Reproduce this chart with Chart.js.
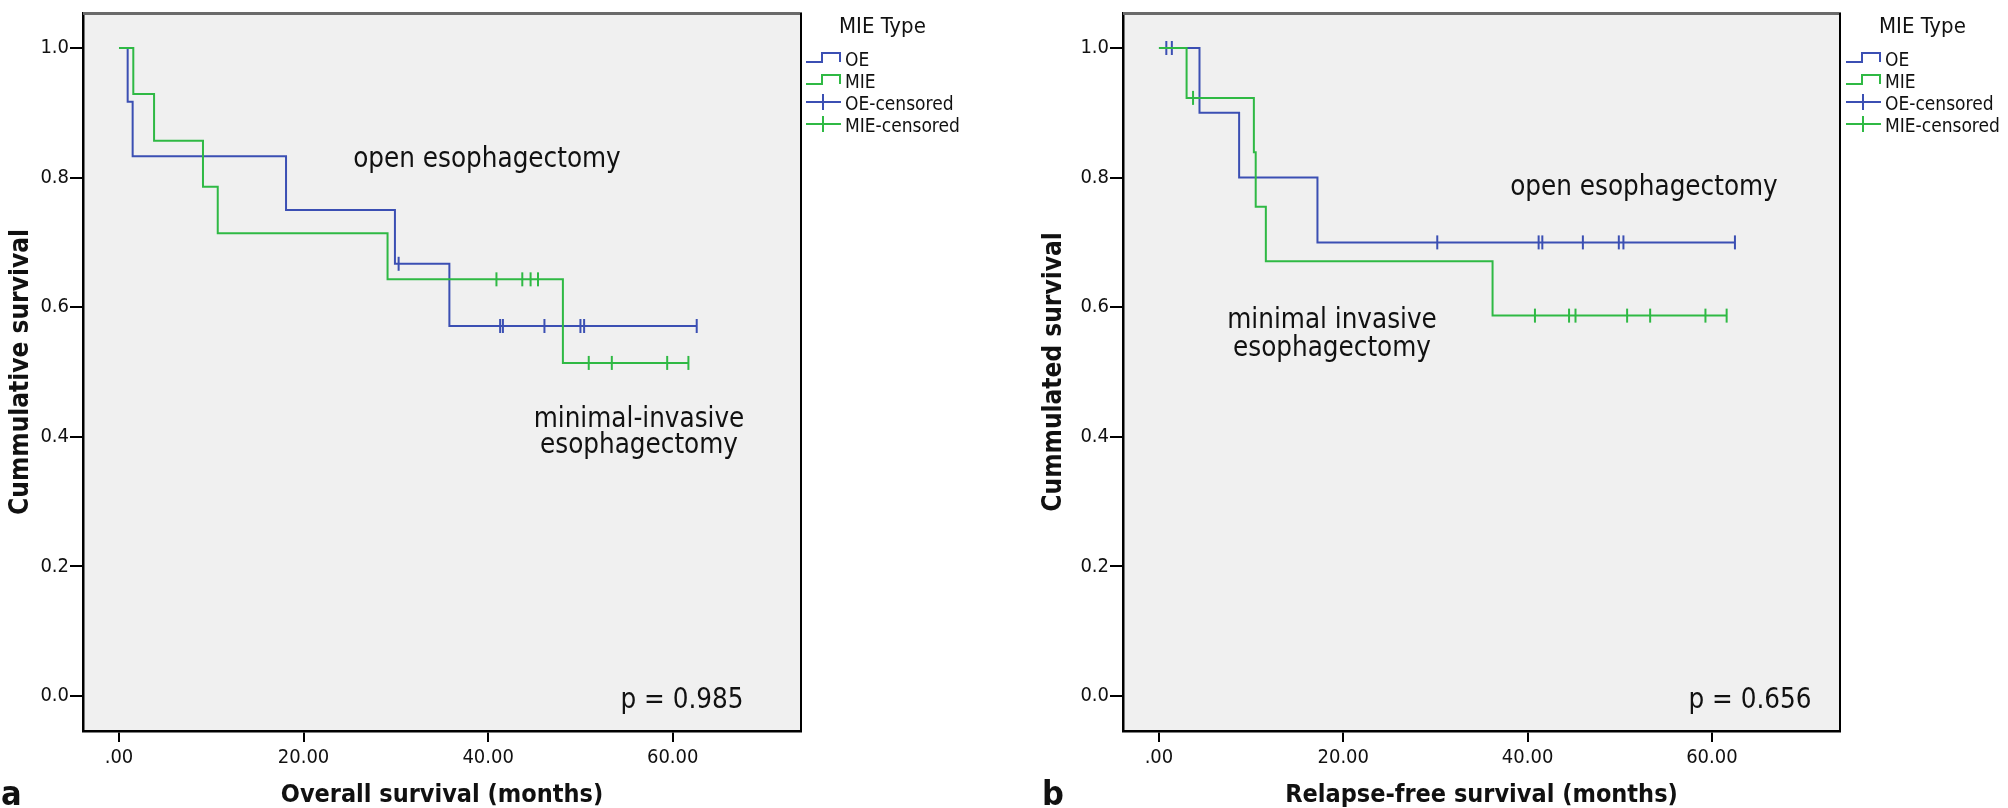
<!DOCTYPE html>
<html>
<head>
<meta charset="utf-8">
<title>Kaplan-Meier: OE vs MIE</title>
<script src="https://cdn.jsdelivr.net/npm/chart.js@4.4.0/dist/chart.umd.min.js"></script>
<style>
  html, body { margin: 0; padding: 0; background: #fff; }
  .panel { position: absolute; left: 0; top: 0; width: 2008px; height: 808px; }
</style>
</head>
<body>
<div class="panel"><canvas id="chartA"></canvas></div>
<div class="panel"><canvas id="chartB"></canvas></div>
<script>
'use strict';

// axis ticks
const xTicks = [0, 20, 40, 60];
const xTickLabels = ['.00', '20.00', '40.00', '60.00'];
const yTicks = [0, 0.2, 0.4, 0.6, 0.8, 1.0];
const legendLabels = ['OE', 'MIE', 'OE-censored', 'MIE-censored'];

// a: overall survival (months)
const osOeTimes = [0, 0.94, 1.48, 18.1, 29.9, 35.8, 62.6];
const osOeSurv = [1, 0.917, 0.833, 0.75, 0.667, 0.571, 0.571];
const osOeCensTimes = [30.3, 41.3, 41.6, 46.1, 50.0, 50.4, 62.6];
const osOeCensSurv = [0.667, 0.571, 0.571, 0.571, 0.571, 0.571, 0.571];
const osMieTimes = [0, 1.55, 3.8, 9.1, 10.7, 29.1, 48.1, 61.7];
const osMieSurv = [1, 0.929, 0.857, 0.786, 0.714, 0.643, 0.514, 0.514];
const osMieCensTimes = [40.9, 43.7, 44.6, 45.4, 50.9, 53.4, 59.4, 61.7];
const osMieCensSurv = [0.643, 0.643, 0.643, 0.643, 0.514, 0.514, 0.514, 0.514];

// b: relapse-free survival (months)
const rfOeTimes = [0, 4.4, 8.7, 17.2, 62.5];
const rfOeSurv = [1, 0.9, 0.8, 0.7, 0.7];
const rfOeCensTimes = [0.8, 1.4, 30.2, 41.2, 41.6, 46.0, 49.9, 50.4, 62.5];
const rfOeCensSurv = [1, 1, 0.7, 0.7, 0.7, 0.7, 0.7, 0.7, 0.7];
const rfMieTimes = [0, 3.0, 10.3, 10.5, 11.6, 36.2, 61.6];
const rfMieSurv = [1, 0.923, 0.839, 0.755, 0.671, 0.587, 0.587];
const rfMieCensTimes = [3.7, 40.8, 44.5, 45.2, 50.8, 53.3, 59.3, 61.6];
const rfMieCensSurv = [0.923, 0.587, 0.587, 0.587, 0.587, 0.587, 0.587, 0.587];

const BLUE = '#3b4fb3';
const GREEN = '#2fb944';
const FONT = '"DejaVu Sans Condensed", "Liberation Sans Narrow", "DejaVu Sans", sans-serif';

function toPoints(xs, ys) {
  return xs.map((x, i) => ({ x: x, y: ys[i] }));
}

function kmLine(label, xs, ys, color) {
  return {
    label: label,
    data: toPoints(xs, ys),
    borderColor: color,
    borderWidth: 2,
    stepped: 'before',
    pointRadius: 0,
    fill: false
  };
}

function censorMarks(label, xs, ys, color) {
  return {
    label: label,
    data: toPoints(xs, ys),
    showLine: false,
    pointStyle: 'line',
    rotation: 90,
    pointRadius: 7,
    pointBorderWidth: 2,
    borderColor: color,
    pointBorderColor: color
  };
}

// background, frame, notes and legend for each panel
const panelDecor = {
  id: 'panelDecor',
  beforeDraw(chart) {
    const { ctx, chartArea: a } = chart;
    ctx.save();
    ctx.fillStyle = '#f0f0f0';
    ctx.fillRect(a.left, a.top, a.right - a.left, a.bottom - a.top);
    ctx.restore();
  },
  afterDraw(chart, args, opts) {
    const { ctx, chartArea: a } = chart;
    ctx.save();
    ctx.strokeStyle = '#6a6a6a';
    ctx.lineWidth = 3;
    ctx.beginPath();
    ctx.moveTo(a.left, a.top + 0.5);
    ctx.lineTo(a.right + 1, a.top + 0.5);
    ctx.stroke();
    ctx.strokeStyle = '#000';
    ctx.lineWidth = 2;
    ctx.beginPath();
    ctx.moveTo(a.right, a.top);
    ctx.lineTo(a.right, a.bottom);
    ctx.stroke();

    ctx.fillStyle = '#111';
    ctx.textBaseline = 'alphabetic';
    ctx.textAlign = 'center';
    ctx.font = '27.5px ' + FONT;
    opts.notes.forEach(n => ctx.fillText(n.text, n.x, n.y));

    ctx.textAlign = 'left';
    ctx.font = 'bold 34px ' + FONT;
    ctx.fillText(opts.letter, opts.letterX, 805);

    // legend
    const lx = opts.legendX;
    ctx.font = '22px ' + FONT;
    ctx.fillText('MIE Type', lx + 33, 33);
    ctx.font = '19px ' + FONT;
    legendLabels.forEach((lab, i) => {
      const by = 66 + i * 22;
      ctx.strokeStyle = i % 2 === 0 ? BLUE : GREEN;
      ctx.lineWidth = 2;
      ctx.beginPath();
      if (i < 2) {
        ctx.moveTo(lx, by - 4);
        ctx.lineTo(lx + 16, by - 4);
        ctx.lineTo(lx + 16, by - 13);
        ctx.lineTo(lx + 34, by - 13);
        ctx.lineTo(lx + 34, by - 4);
      } else {
        ctx.moveTo(lx, by - 8);
        ctx.lineTo(lx + 35, by - 8);
        ctx.moveTo(lx + 17, by - 16);
        ctx.lineTo(lx + 17, by);
      }
      ctx.stroke();
      ctx.fillStyle = '#111';
      ctx.fillText(lab, lx + 39, by);
    });
    ctx.restore();
  }
};

function makePanel(id, p) {
  const cfg = {
    type: 'line',
    data: {
      datasets: [
        kmLine('MIE', p.mieT, p.mieS, GREEN),
        kmLine('OE', p.oeT, p.oeS, BLUE),
        censorMarks('MIE-censored', p.mieCT, p.mieCS, GREEN),
        censorMarks('OE-censored', p.oeCT, p.oeCS, BLUE)
      ]
    },
    options: {
      responsive: true,
      maintainAspectRatio: false,
      animation: false,
      events: [],
      layout: { padding: { left: p.padLeft, right: p.padRight, top: 2, bottom: 0 } },
      scales: {
        x: {
          type: 'linear',
          min: -3.9,
          max: 73.9,
          afterBuildTicks: s => { s.ticks = xTicks.map(v => ({ value: v })); },
          afterFit: s => { s.height = 77; },
          ticks: {
            callback: (v, i) => xTickLabels[i],
            font: { family: FONT, size: 20 },
            color: '#111',
            padding: 4,
            maxRotation: 0
          },
          grid: { drawOnChartArea: false, drawTicks: true, tickLength: 11, color: '#000', lineWidth: 2 },
          border: { display: true, color: '#000', width: 2.5 },
          title: {
            display: true,
            text: p.xTitle,
            font: { family: FONT, size: 25, weight: 'bold', lineHeight: 1 },
            color: '#111',
            padding: { top: 0, bottom: 0 }
          }
        },
        y: {
          type: 'linear',
          min: -0.054,
          max: 1.054,
          afterBuildTicks: s => { s.ticks = yTicks.map(v => ({ value: v })); },
          afterFit: s => { s.width = 83; },
          ticks: {
            callback: v => v.toFixed(1),
            font: { family: FONT, size: 20 },
            color: '#111',
            padding: 1
          },
          grid: { drawOnChartArea: false, drawTicks: true, tickLength: 13, color: '#000', lineWidth: 2 },
          border: { display: true, color: '#000', width: 2.5 },
          title: {
            display: true,
            text: p.yTitle,
            font: { family: FONT, size: 26, weight: 'bold', lineHeight: 1 },
            color: '#111',
            padding: { top: p.yTitlePad, bottom: 0 }
          }
        }
      },
      plugins: {
        legend: { display: false },
        tooltip: { enabled: false },
        panelDecor: {
          notes: p.notes,
          letter: p.letter,
          letterX: p.letterX,
          legendX: p.legendX
        }
      }
    },
    plugins: [panelDecor]
  };
  return new Chart(document.getElementById(id).getContext('2d'), cfg);
}

makePanel('chartA', {
  oeT: osOeTimes, oeS: osOeSurv, oeCT: osOeCensTimes, oeCS: osOeCensSurv,
  mieT: osMieTimes, mieS: osMieSurv, mieCT: osMieCensTimes, mieCS: osMieCensSurv,
  padLeft: 0, padRight: 1207,
  xTitle: 'Overall survival (months)',
  yTitle: 'Cummulative survival',
  yTitlePad: 8,
  letter: 'a', letterX: 1,
  legendX: 806,
  notes: [
    { text: 'open esophagectomy', x: 487, y: 167 },
    { text: 'minimal-invasive', x: 639, y: 427 },
    { text: 'esophagectomy', x: 639, y: 453 },
    { text: 'p = 0.985', x: 682, y: 708 }
  ]
});

makePanel('chartB', {
  oeT: rfOeTimes, oeS: rfOeSurv, oeCT: rfOeCensTimes, oeCS: rfOeCensSurv,
  mieT: rfMieTimes, mieS: rfMieSurv, mieCT: rfMieCensTimes, mieCS: rfMieCensSurv,
  padLeft: 1040, padRight: 168,
  xTitle: 'Relapse-free survival (months)',
  yTitle: 'Cummulated survival',
  yTitlePad: 1,
  letter: 'b', letterX: 1042,
  legendX: 1846,
  notes: [
    { text: 'open esophagectomy', x: 1644, y: 195 },
    { text: 'minimal invasive', x: 1332, y: 328 },
    { text: 'esophagectomy', x: 1332, y: 356 },
    { text: 'p = 0.656', x: 1750, y: 708 }
  ]
});
</script>
</body>
</html>
